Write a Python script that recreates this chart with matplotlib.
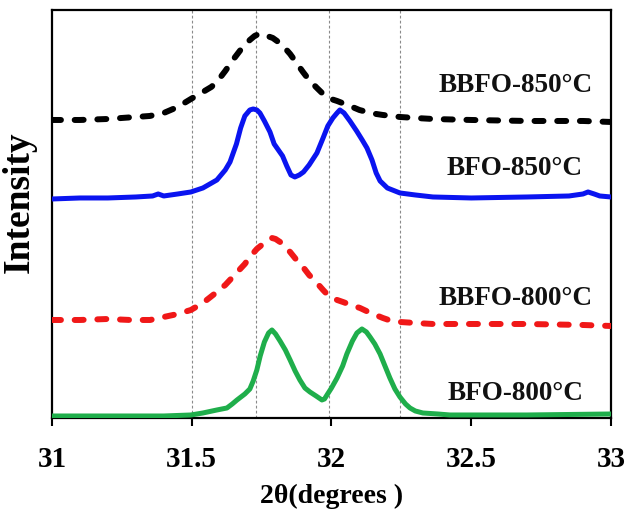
import matplotlib
matplotlib.use("Agg")
import matplotlib.pyplot as plt

plt.rcParams['font.family'] = ['Liberation Serif', 'DejaVu Serif']

# --- data (2theta in degrees, intensity in arbitrary units) ---
bbfo850_x = [31.0, 31.1, 31.2, 31.3, 31.35, 31.4, 31.45, 31.497, 31.54, 31.57,
             31.59, 31.62, 31.65, 31.68, 31.708, 31.725, 31.74, 31.755, 31.77, 31.79,
             31.805, 31.83, 31.852, 31.875, 31.898, 31.92, 31.948, 31.97, 31.987, 32.02,
             32.066, 32.1, 32.127, 32.16, 32.184, 32.245, 32.3, 32.363, 32.5, 32.7,
             32.9, 33.0]
bbfo850_y = [298, 298, 299, 301, 302, 305, 311, 319, 326, 331,
             336, 347, 359, 370, 378, 382, 384, 384, 382, 380,
             377, 371, 364, 355, 346, 338, 330, 324, 320, 317,
             312, 308, 306, 304, 303, 301, 300, 299, 298, 297,
             297, 296]

bfo850_x = [31.0, 31.1, 31.2, 31.3, 31.36, 31.38, 31.40, 31.45, 31.497, 31.54,
            31.59, 31.62, 31.637, 31.66, 31.675, 31.69, 31.708, 31.72, 31.733, 31.744,
            31.76, 31.78, 31.795, 31.81, 31.825, 31.84, 31.855, 31.869, 31.885, 31.9,
            31.92, 31.948, 31.97, 31.987, 32.005, 32.02, 32.03, 32.045, 32.066, 32.09,
            32.11, 32.127, 32.145, 32.16, 32.174, 32.2, 32.245, 32.3, 32.363, 32.5,
            32.7, 32.85, 32.9, 32.918, 32.94, 32.96, 33.0]
bfo850_y = [219, 220, 220, 221, 222, 224, 222, 224, 226, 230,
            238, 248, 256, 274, 290, 302, 308, 309, 308, 305,
            297, 286, 274, 268, 262, 252, 243, 241, 243, 246,
            253, 265, 280, 292, 300, 305, 308, 305, 297, 287,
            278, 270, 258, 245, 237, 230, 225, 223, 221, 220,
            221, 222, 224, 226, 224, 222, 221]

bbfo800_x = [31.0, 31.1, 31.2, 31.28, 31.351, 31.4, 31.45, 31.497, 31.54, 31.59,
             31.62, 31.66, 31.69, 31.708, 31.733, 31.755, 31.77, 31.787, 31.8, 31.816,
             31.835, 31.852, 31.875, 31.898, 31.92, 31.948, 31.97, 31.987, 32.01, 32.041,
             32.07, 32.102, 32.14, 32.184, 32.215, 32.245, 32.3, 32.363, 32.5, 32.7,
             32.9, 33.0]
bbfo800_y = [98, 98, 99, 98, 98, 101, 104, 108, 115, 126,
             133, 145, 154, 161, 169, 174, 177, 180, 179, 176,
             171, 166, 158, 151, 143, 135, 128, 123, 119, 116,
             113, 110, 105, 100, 97, 96, 95, 94, 94, 94,
             93, 92]

bfo800_x = [31.0, 31.2, 31.4, 31.497, 31.54, 31.59, 31.626, 31.645, 31.662, 31.69,
            31.708, 31.72, 31.733, 31.745, 31.76, 31.775, 31.787, 31.8, 31.816, 31.835,
            31.852, 31.87, 31.887, 31.905, 31.923, 31.945, 31.966, 31.975, 31.984, 32.0,
            32.02, 32.04, 32.055, 32.075, 32.091, 32.109, 32.125, 32.138, 32.155, 32.174,
            32.19, 32.209, 32.227, 32.245, 32.265, 32.281, 32.3, 32.327, 32.38, 32.424,
            32.7, 33.0]
bfo800_y = [2, 2, 2, 3, 5, 8, 10, 14, 18, 24,
            29, 37, 48, 62, 76, 85, 88, 84, 77, 68,
            58, 47, 38, 30, 26, 22, 18, 19, 23, 30,
            40, 52, 64, 77, 85, 89, 86, 81, 74, 64,
            53, 40, 29, 21, 14, 10, 7, 5, 4, 3,
            3, 4]

guide_x = [31.5, 31.73, 31.99, 32.245]
xticks = [31, 31.5, 32, 32.5, 33]
xtick_labels = ['31', '31.5', '32', '32.5', '33']

labels = ['BBFO-850°C', 'BFO-850°C', 'BBFO-800°C', 'BFO-800°C']
label_x = [32.936, 32.900, 32.936, 32.900]
label_y = [332, 249, 119, 24]

# --- figure ---
fig = plt.figure(figsize=(6.27, 5.14), dpi=100)
ax = fig.add_axes([0.0829, 0.1868, 0.8915, 0.7938])

for gx in guide_x:
    ax.axvline(gx, color='#8a8a8a', lw=0.8, ls=(0, (2.5, 2)), zorder=1)

ax.plot(bbfo850_x, bbfo850_y, color='black', lw=4.3, dashes=(1.5, 2.3),
        dash_capstyle='round', zorder=3)
ax.plot(bfo850_x, bfo850_y, color='#0a14f0', lw=3.6, solid_joinstyle='round', zorder=3)
ax.plot(bbfo800_x, bbfo800_y, color='#f01818', lw=4.3, dashes=(1.5, 2.3),
        dash_capstyle='round', zorder=3)
ax.plot(bfo800_x, bfo800_y, color='#1fae4b', lw=3.6, solid_joinstyle='round', zorder=3)

for t, tx, ty in zip(labels, label_x, label_y):
    ax.text(tx, ty, t, ha='right', va='center', fontsize=19.5, fontweight='bold',
            color='#111111')

ax.set_xlim(31, 33)
ax.set_ylim(0, 408)
ax.set_xticks(xticks)
ax.set_xticklabels(xtick_labels)
ax.set_yticks([])
ax.tick_params(axis='x', direction='out', length=6, width=1.5, pad=14,
               labelsize=21)
for lab in ax.get_xticklabels():
    lab.set_fontweight('bold')
for sp in ax.spines.values():
    sp.set_linewidth(1.6)

ax.set_xlabel('2θ(degrees )', fontsize=20, fontweight='bold', labelpad=8)
ax.set_ylabel('Intensity', fontsize=27, fontweight='bold')
ax.yaxis.set_label_coords(-0.027, 0.53)

fig.savefig('out.png', dpi=100)
